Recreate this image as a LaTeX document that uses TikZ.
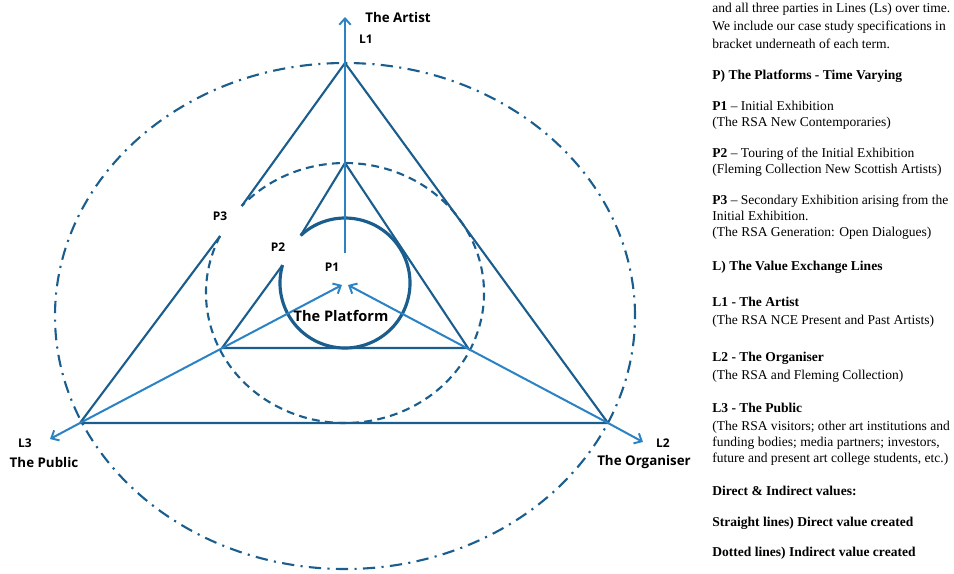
\documentclass[tikz,border=0pt]{standalone}
\usepackage{fontspec}
\setmainfont{Liberation Serif}
\setsansfont{Open Sans}
\usepackage{xcolor}
\definecolor{LineBlue}{HTML}{1B5E8E}
\definecolor{ValueBlue}{HTML}{2B82C4}
\usepackage{tikz}
\usetikzlibrary{arrows.meta,calc}

\begin{document}
\begin{tikzpicture}[
  x=0.2mm, y=0.2mm,
  direct/.style={draw=LineBlue, line width=1.2pt},
  platform/.style={draw=LineBlue, line width=1.8pt},
  indirect/.style={draw=LineBlue, line width=1.2pt, dash pattern=on 4.5pt off 3pt},
  horizon/.style={draw=LineBlue, line width=1.2pt,
                  dash pattern=on 7pt off 3.6pt on 1.2pt off 3.6pt},
  value/.style={draw=ValueBlue, line width=1.15pt,
                -{Straight Barb[length=3.6pt,width=6.5pt,line width=1.1pt]}},
  party/.style={font=\sffamily\bfseries\fontsize{7.6}{9}\selectfont, inner sep=0pt},
  tag/.style={font=\sffamily\bfseries\fontsize{6.8}{8}\selectfont, inner sep=0pt},
  note/.style={font=\fontsize{7.7}{9.2}\selectfont, align=left,
               anchor=base west, inner sep=0pt},
]
  \useasboundingbox (0,0) rectangle (954,573);

  % corners of the two triangles and the centres
  \coordinate (A1) at (345,510);
  \coordinate (B1) at (80,150);
  \coordinate (C1) at (608,150);
  \coordinate (A2) at (345,410);
  \coordinate (B2) at (222,225);
  \coordinate (C2) at (468,225);
  \coordinate (Mo) at (345,257);
  \coordinate (Mm) at (345,280);
  \coordinate (Mi) at (345,290);
  \coordinate (P3a) at ($(Mm)+(138:139 and 130)$);
  \coordinate (P3b) at ($(Mm)+(154:139 and 130)$);
  \coordinate (P2a) at ($(Mi)+(133:65)$);
  \coordinate (P2b) at ($(Mi)+(164:65)$);

  % rings
  \draw[horizon] (Mo) ellipse [x radius=290, y radius=253];
  \draw[indirect] (P3b) arc [start angle=154, end angle=498, x radius=139, y radius=130];
  \draw[platform] (P2b) arc [start angle=164, end angle=493, radius=65];

  % triangles
  \draw[direct] (A1) -- (P3a);
  \draw[direct] (B1) -- (P3b);
  \draw[direct] (A1) -- (C1) -- (B1);
  \draw[direct] (A2) -- (P2a);
  \draw[direct] (B2) -- (P2b);
  \draw[direct] (A2) -- (C2) -- (B2);

  % value exchange lines
  \coordinate (L1s) at (345,320);
  \coordinate (L1e) at (345,556);
  \coordinate (P1l) at (342,288);
  \coordinate (P1r) at (348,288);
  \coordinate (L3e) at (50,134);
  \coordinate (L2e) at (643,131);
  \draw[value] (L1s) -- (L1e);
  \draw[value] (B1) -- (P1l);
  \draw[value] (B1) -- (L3e);
  \draw[value] (C1) -- (P1r);
  \draw[value] (C1) -- (L2e);

  \node[party] (artist) at (398,556) {The Artist};
  \node[tag]   (l1)     at (366,534) {L1};
  \node[tag]   (p3)     at (220,357) {P3};
  \node[tag]   (p2)     at (278,326) {P2};
  \node[tag]   (p1)     at (332,306) {P1};
  \node[party, font=\sffamily\bfseries\fontsize{8.3}{9}\selectfont]
               (plat)   at (341,257) {The Platform};
  \node[tag]   (l3)     at (25,130)  {L3};
  \node[party] (public) at (44,111)  {The Public};
  \node[tag]   (l2)     at (663,130) {L2};
  \node[party] (organ)  at (644,111) {The Organiser};

  % explanation column (base = last line)
  \node[note, font=\fontsize{7.7}{10.2}\selectfont] (intro) at (712,524.5)
    {and all three parties in Lines (Ls) over time.\\
     We include our case study specifications in\\
     bracket underneath of each term.};
  \node[note] (ptitle) at (712,493.5) {\textbf{P) The Platforms - Time Varying}};
  \node[note] (pone)   at (712,446.5)
    {\textbf{P1} -- Initial Exhibition\\(The RSA New Contemporaries)};
  \node[note] (ptwo)   at (712,399.5)
    {\textbf{P2} -- Touring of the Initial Exhibition\\(Fleming Collection New Scottish Artists)};
  \node[note] (pthree) at (712,336.5)
    {\textbf{P3} -- Secondary Exhibition arising from the\\Initial Exhibition.\\(The RSA Generation: Open Dialogues)};
  \node[note] (ltitle) at (712,302.5) {\textbf{L) The Value Exchange Lines}};
  \node[note, font=\fontsize{7.7}{10}\selectfont] (lone) at (712,248.5)
    {\textbf{L1 - The Artist}\\(The RSA NCE Present and Past Artists)};
  \node[note, font=\fontsize{7.7}{10}\selectfont] (ltwo) at (712,193.5)
    {\textbf{L2 - The Organiser}\\(The RSA and Fleming Collection)};
  \node[note] (lthree) at (712,110.5)
    {\textbf{L3 - The Public}\\[0.8pt](The RSA visitors; other art institutions and\\funding bodies; media partners; investors,\\future and present art college students, etc.)};
  \node[note] (values) at (712,77.5)  {\textbf{Direct \& Indirect values:}};
  \node[note] (direct) at (712,46.5)  {\textbf{Straight lines) Direct value created}};
  \node[note] (dotted) at (712,16.5)  {\textbf{Dotted lines) Indirect value created}};
\end{tikzpicture}
\end{document}
